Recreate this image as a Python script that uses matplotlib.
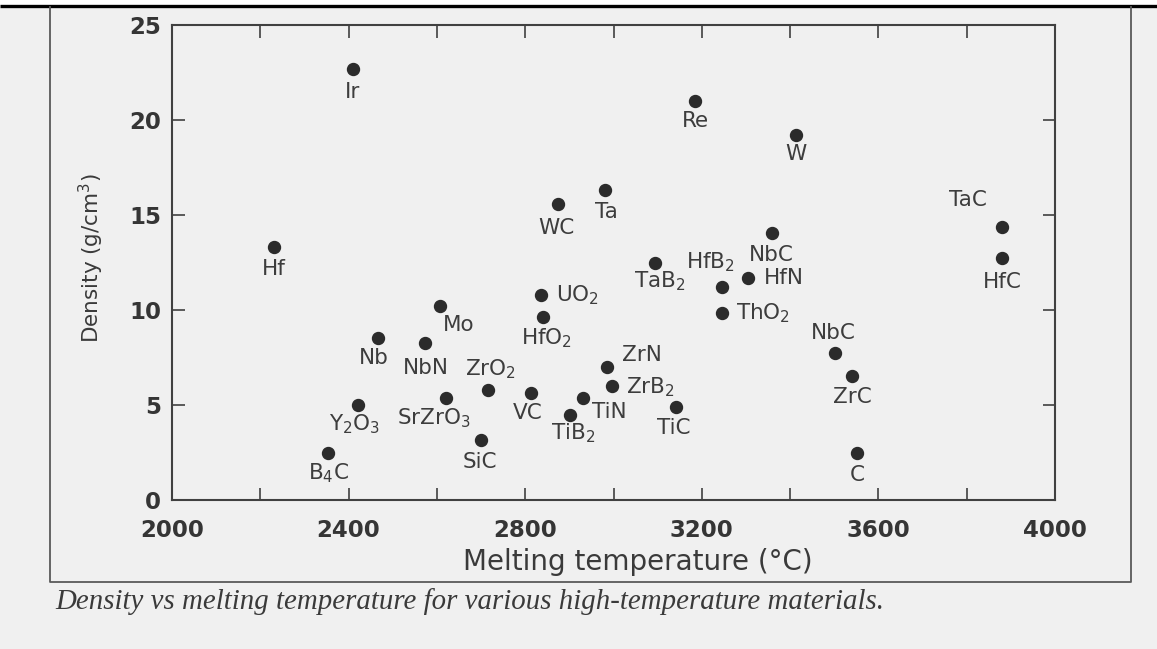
import matplotlib
matplotlib.use("Agg")
import matplotlib.pyplot as plt
from matplotlib.ticker import MultipleLocator, FixedLocator

plt.rcParams["font.family"] = ["DejaVu Sans"]
plt.rcParams["mathtext.default"] = "regular"

# Melting temperature (deg C) and density (g/cm^3) of high-temperature materials
materials = ["Ir", "Hf", "Re", "W", "WC", "Ta", "TaB$_2$", "HfB$_2$", "HfN", "NbC",
             "ThO$_2$", "UO$_2$", "HfO$_2$", "Mo", "Nb", "NbN", "Y$_2$O$_3$", "B$_4$C",
             "SrZrO$_3$", "ZrO$_2$", "SiC", "VC", "TiB$_2$", "TiN", "ZrN", "ZrB$_2$",
             "TiC", "TaC", "HfC", "NbC", "ZrC", "C"]
melting_temp = [2410, 2230, 3185, 3413, 2874, 2980, 3095, 3245, 3305, 3360,
                3245, 2835, 2840, 2607, 2467, 2573, 2421, 2353,
                2621, 2716, 2700, 2813, 2901, 2931, 2985, 2997,
                3142, 3880, 3880, 3502, 3540, 3552]
density = [22.7, 13.3, 21.0, 19.2, 15.6, 16.3, 12.5, 11.2, 11.7, 14.05,
           9.85, 10.8, 9.65, 10.2, 8.55, 8.25, 5.0, 2.5,
           5.35, 5.8, 3.15, 5.65, 4.5, 5.35, 7.0, 6.0,
           4.9, 14.35, 12.75, 7.75, 6.55, 2.45]

x_ticks = [2000, 2400, 2800, 3200, 3600, 4000]
y_ticks = [0, 5, 10, 15, 20, 25]

# label placement around each marker: (dx, dy) in pixels, horizontal alignment
label_place = [
    (0, -23, "center"), (0, -22, "center"), (0, -20, "center"), (0, -19, "center"),
    (-1, -24, "center"), (2, -22, "center"), (4, -19, "center"), (-11, 25, "center"),
    (16, 0, "left"), (-1, -22, "center"),
    (14, 0, "left"), (15, 0, "left"), (4, -22, "center"), (19, -19, "center"),
    (-4, -20, "center"), (1, -25, "center"), (-3, -19, "center"), (1, -21, "center"),
    (-12, -20, "center"), (2, 21, "center"), (-1, -22, "center"), (-3, -20, "center"),
    (3, -19, "center"), (9, -14, "left"), (15, 12, "left"), (14, -1, "left"),
    (-2, -21, "center"), (-34, 27, "center"), (0, -24, "center"), (-2, 20, "center"),
    (0, -21, "center"), (0, -22, "center"),
]

W, H = 1157, 649
fig = plt.figure(figsize=(W / 100, H / 100), dpi=100)
fig.patch.set_facecolor("#f0f0f0")

# page decorations: scan edge, outer frame, caption
bg = fig.add_axes([0, 0, 1, 1], zorder=0)
bg.set_xlim(0, W)
bg.set_ylim(H, 0)
bg.axis("off")
bg.fill_between([0, W], 0, 4.5, color="white", lw=0)
bg.plot([0, W], [5.5, 5.5], color="black", lw=2.4, solid_capstyle="butt")
bg.plot([50, 50, 1131, 1131], [7, 582, 582, 7], color="#5a5a5a", lw=1.3)
bg.text(55, 602, "Density vs melting temperature for various high-temperature materials.",
        family=["Liberation Serif"], style="italic", fontsize=20.8, color="#3a3a3a",
        ha="left", va="center")

left, right, top, bottom = 172, 1055, 25, 500
ax = fig.add_axes([left / W, 1 - bottom / H, (right - left) / W, (bottom - top) / H], zorder=1)
ax.patch.set_alpha(0)

ax.plot(melting_temp, density, "o", ms=8.6, color="#2b2b2b", mec="#2b2b2b", ls="none")

px = 0.72  # points per pixel at 100 dpi
for name, xv, yv, (dx, dy, ha) in zip(materials, melting_temp, density, label_place):
    ax.annotate(name, (xv, yv), xytext=(dx * px, dy * px), textcoords="offset points",
                ha=ha, va="center", fontsize=15.5, color="#3d3d3d")

ax.set_xlim(2000, 4000)
ax.set_ylim(0, 25)
ax.xaxis.set_major_locator(FixedLocator(x_ticks))
ax.xaxis.set_minor_locator(MultipleLocator(200))
ax.yaxis.set_major_locator(FixedLocator(y_ticks))

for s in ax.spines.values():
    s.set_linewidth(1.5)
    s.set_color("#404040")

ax.tick_params(axis="both", which="both", direction="in", top=True, right=True,
               color="#404040", width=1.2)
ax.tick_params(axis="x", which="major", length=9, pad=14, labelsize=16.5, labelcolor="#353535")
ax.tick_params(axis="x", which="minor", length=9)
ax.tick_params(axis="y", which="major", length=9, pad=8, labelsize=16.5, labelcolor="#353535")
for lab in ax.get_xticklabels() + ax.get_yticklabels():
    lab.set_fontweight("bold")

ax.set_xlabel("Melting temperature (\u00b0C)", fontsize=20, color="#3a3a3a")
ax.xaxis.set_label_coords((638 - left) / (right - left), -(548 - bottom) / (bottom - top))
ax.set_ylabel("Density (g/cm$^3$)", fontsize=15.5, color="#3a3a3a")
ax.yaxis.set_label_coords(-(left - 106) / (right - left), (bottom - 258) / (bottom - top))

fig.savefig("out.png", dpi=100, facecolor=fig.get_facecolor())
